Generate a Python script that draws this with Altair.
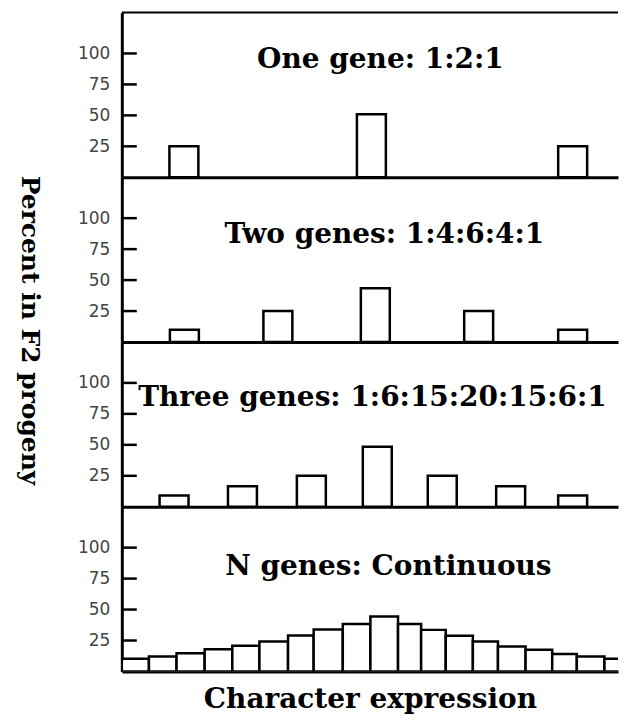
import altair as alt
import pandas as pd

# ---- data ----
tick_values = [25, 50, 75, 100]

titles = [
    "One gene: 1:2:1",
    "Two genes: 1:4:6:4:1",
    "Three genes: 1:6:15:20:15:6:1",
    "N genes: Continuous",
]

# panel 1 (one gene)
p1_pos = [11.6, 49.7, 90.6]
p1_val = [25, 51, 25]
# panel 2 (two genes)
p2_pos = [11.7, 30.7, 50.5, 71.5, 90.6]
p2_val = [10, 25, 43.5, 25, 10]
# panel 3 (three genes)
p3_pos = [9.6, 23.5, 37.5, 50.9, 64.1, 78.0, 90.6]
p3_val = [9, 16.5, 25, 48.5, 25, 16.5, 9]
# panel 4 (N genes, continuous)
p4_edges = [0, 5.4, 10.9, 16.5, 22.0, 27.4, 33.1, 38.2, 44.0, 49.5, 55.0,
            59.6, 64.5, 69.9, 74.9, 80.4, 85.7, 90.6, 96.1, 101.5]
p4_val = [10.2, 12.1, 14.8, 18.0, 20.7, 24.2, 29.0, 33.9, 38.4, 44.4,
          38.4, 33.6, 28.8, 24.2, 20.2, 17.5, 14.2, 12.1, 10.2]

# ---- layout / style ----
W = 497
H = 165
YMAX = 133
XMAX = 98.8
TITLE_FONT = "DejaVu Serif"

xscale = alt.Scale(domain=[0, XMAX], nice=False, zero=False)
yscale = alt.Scale(domain=[0, YMAX], nice=False)


def x_axis(last):
    kw = dict(labels=False, ticks=False, grid=False, domainWidth=3,
              domainColor="black")
    if last:
        kw.update(titleFont=TITLE_FONT, titleFontSize=28, titleFontWeight="bold",
                  titleColor="black", titlePadding=14)
    return alt.Axis(**kw)


def y_axis(with_title):
    kw = dict(values=tick_values, ticks=False, grid=False, domainWidth=3,
              domainColor="black", labelFont="DejaVu Sans", labelFontSize=17,
              labelColor="#444", labelPadding=12)
    if with_title:
        kw.update(titleAngle=90, titleX=-92, titleY=153, titleAlign="center",
                  titleBaseline="middle", titleFont=TITLE_FONT, titleFontSize=25,
                  titleFontWeight="bold", titleColor="black")
    return alt.Axis(**kw)


def panel(idx, bars, title_x, title_y, first=False, ytitle=False):
    yt = "Percent in F2 progeny" if ytitle else None
    yenc = alt.Y("v:Q", scale=yscale, axis=y_axis(ytitle), title=yt)
    layers = [bars]
    ticks = alt.Chart(pd.DataFrame({"v": tick_values})).mark_rule(
        color="black", strokeWidth=2.5
    ).encode(y=yenc, x=alt.value(0), x2=alt.value(15))
    layers.append(ticks)
    label = alt.Chart(pd.DataFrame({"label": [titles[idx]]})).mark_text(
        font=TITLE_FONT, fontWeight="bold", fontSize=28, align="center",
        baseline="alphabetic", color="black"
    ).encode(text="label:N", x=alt.value(title_x), y=alt.value(title_y))
    layers.append(label)
    if first:
        top = alt.Chart(pd.DataFrame({"label": [""]})).mark_rule(
            color="black", strokeWidth=2
        ).encode(x=alt.value(0), x2=alt.value(W), y=alt.value(0))
        layers.append(top)
    return alt.layer(*layers).properties(width=W, height=H)


def center_bars(pos, val, ytitle=False):
    df = pd.DataFrame({"x": pos, "v": val})
    yt = "Percent in F2 progeny" if ytitle else None
    return alt.Chart(df).mark_bar(
        fill="white", stroke="black", strokeWidth=2.5, size=29
    ).encode(
        x=alt.X("x:Q", scale=xscale, axis=x_axis(False), title=None),
        y=alt.Y("v:Q", scale=yscale, axis=y_axis(ytitle), title=yt),
    )


df4 = pd.DataFrame({"x": p4_edges[:-1], "x_end": p4_edges[1:], "v": p4_val})
bars4 = alt.Chart(df4).mark_rect(
    fill="white", stroke="black", strokeWidth=2.5, clip=True
).encode(
    x=alt.X("x:Q", scale=xscale, axis=x_axis(True), title="Character expression"),
    x2="x_end:Q",
    y=alt.Y("v:Q", scale=yscale, axis=y_axis(False), title=None),
    y2=alt.datum(0),
)

c1 = panel(0, center_bars(p1_pos, p1_val), 259, 56, first=True)
c2 = panel(1, center_bars(p2_pos, p2_val, ytitle=True), 263, 66, ytitle=True)
c3 = panel(2, center_bars(p3_pos, p3_val), 251, 64)
c4 = panel(3, bars4, 267, 68)

chart = alt.VConcatChart(
    vconcat=[c1, c2, c3, c4], spacing=0, bounds="flush",
    padding={"left": 8, "top": 3, "right": 0, "bottom": 0},
).configure_view(stroke=None).configure_concat(spacing=0)

chart.save("out.html", embed_options={"renderer": "svg", "actions": False})
